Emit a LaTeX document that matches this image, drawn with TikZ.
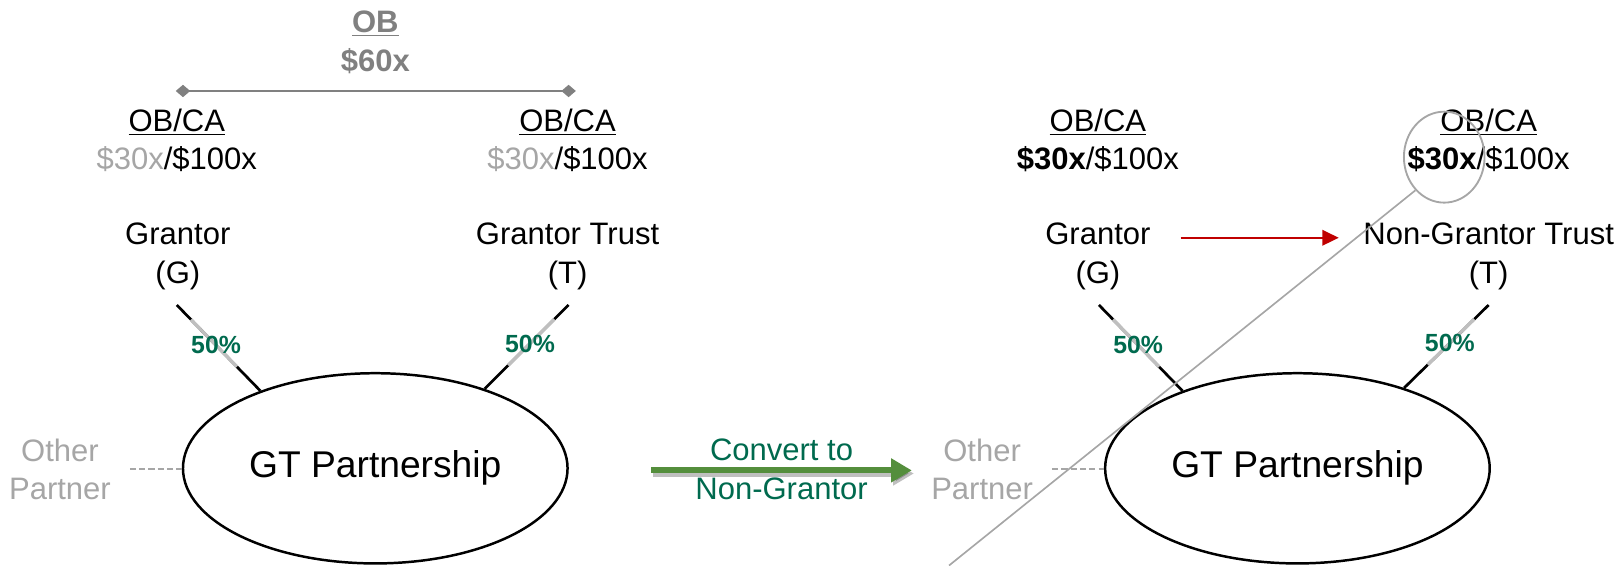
\documentclass[tikz,border=0pt]{standalone}
\usepackage{fontspec}
\setmainfont{Liberation Sans}
\usepackage{tikz}
\usetikzlibrary{calc,shapes.geometric,arrows.meta}
\definecolor{obgray}{RGB}{128,128,128}
\definecolor{lgray}{RGB}{166,166,166}
\definecolor{midgray}{RGB}{191,191,191}
\definecolor{pctgreen}{RGB}{0,106,78}
\definecolor{arrgreen}{RGB}{84,142,60}
\definecolor{arrred}{RGB}{192,0,0}

\begin{document}
\begin{tikzpicture}[x=0.5pt,y=-0.5pt,
  txt/.style={align=center,font=\fontsize{15}{18.5}\selectfont,inner sep=2pt},
  part/.style={draw,ellipse,line width=1.2pt,minimum width=186pt,minimum height=92pt,inner sep=0pt,font=\fontsize{18}{22}\selectfont},
  pct/.style={font=\fontsize{12}{14}\selectfont\bfseries,text=pctgreen,inner sep=1pt},
  own/.style={line width=1.3pt},
  gap/.style={line width=1.6pt,draw=midgray},
  other/.style={txt,text=lgray},
  otherline/.style={lgray,line width=1pt,dash pattern=on 3pt off 1.5pt}]
\useasboundingbox (0,0) rectangle (1568,547);

% before: grantor trust
\node (ob) at (363,41) [txt,font=\fontsize{15}{19}\selectfont\bfseries,text=obgray] {\underline{OB}\\\$60x};
\coordinate (bl) at (170,88);
\coordinate (br) at (557,88);
\draw[obgray,line width=1.3pt,{Diamond[length=7pt,width=6pt]}-{Diamond[length=7pt,width=6pt]}] (bl) -- (br);

\node (ca1) at (171,136) [txt] {\underline{OB/CA}\\{\color{lgray}\$30x}/\$100x};
\node (ca2) at (549,136) [txt] {\underline{OB/CA}\\{\color{lgray}\$30x}/\$100x};
\node (g1) at (172,248) [txt] {Grantor\\(G)};
\node (t1) at (549,248) [txt] {Grantor Trust\\(T)};
\node (pl1) at (363,453) [part] {GT Partnership};
\node (op1) at (58,454) [other] {Other\\Partner};
\draw[otherline,shorten <=7pt] (op1.east) -- (op1.east -| pl1.west);

\coordinate (g1a) at (171,295);
\draw[own] (g1a) -- (pl1.146);
\draw[gap] ($(g1a)!0.17!(pl1.146)$) -- ($(g1a)!0.72!(pl1.146)$);
\node (p1) at ($(g1a)!0.47!(pl1.146)$) [pct] {50\%};
\coordinate (t1a) at (550,295);
\draw[own] (t1a) -- (pl1.36);
\draw[gap] ($(t1a)!0.17!(pl1.36)$) -- ($(t1a)!0.72!(pl1.36)$);
\node (p2) at ($(t1a)!0.46!(pl1.36)$) [pct] {50\%};

% conversion
\coordinate (cv1) at (630,455);
\coordinate (cv2) at (882,455);
\draw[black,opacity=0.25,line width=3pt,-{Triangle[length=10pt,width=11pt]},transform canvas={xshift=1pt,yshift=-1.5pt}] (cv1) -- (cv2);
\draw[arrgreen,line width=3pt,-{Triangle[length=10pt,width=11pt]}] (cv1) -- (cv2);
\node (cv) at (756,454) [txt,text=pctgreen] {Convert to\\Non-Grantor};

% after: non-grantor trust
\node (ca3) at (1062,136) [txt] {\underline{OB/CA}\\\textbf{\$30x}/\$100x};
\node (ca4) at (1440,136) [txt] {\underline{OB/CA}\\\textbf{\$30x}/\$100x};
\node (g2) at (1062,248) [txt] {Grantor\\(G)};
\node (t2) at (1440,248) [txt] {Non-Grantor Trust\\(T)};
\coordinate (ra1) at (1142,230);
\coordinate (ra2) at (1295,230);
\draw[arrred,line width=1pt,-{Triangle[length=8pt,width=7.5pt]}] (ra1) -- (ra2);
\node (pl2) at (1255,453) [part] {GT Partnership};
\node (op2) at (950,454) [other] {Other\\Partner};
\draw[otherline,shorten <=7pt] (op2.east) -- (op2.east -| pl2.west);

\coordinate (g2a) at (1063,295);
\draw[own] (g2a) -- (pl2.146);
\draw[gap] ($(g2a)!0.17!(pl2.146)$) -- ($(g2a)!0.72!(pl2.146)$);
\node (p3) at ($(g2a)!0.47!(pl2.146)$) [pct] {50\%};
\coordinate (t2a) at (1440,295);
\draw[own] (t2a) -- (pl2.37);
\draw[gap] ($(t2a)!0.17!(pl2.37)$) -- ($(t2a)!0.72!(pl2.37)$);
\node (p4) at ($(t2a)!0.46!(pl2.37)$) [pct] {50\%};

\node (hl) at (1397,152) [draw=lgray,line width=0.9pt,ellipse,minimum width=39pt,minimum height=44pt,inner sep=0pt] {};
\coordinate (hlend) at (918,547);
\draw[lgray,line width=0.8pt] (hl.229) -- (hlend);
\end{tikzpicture}
\end{document}
